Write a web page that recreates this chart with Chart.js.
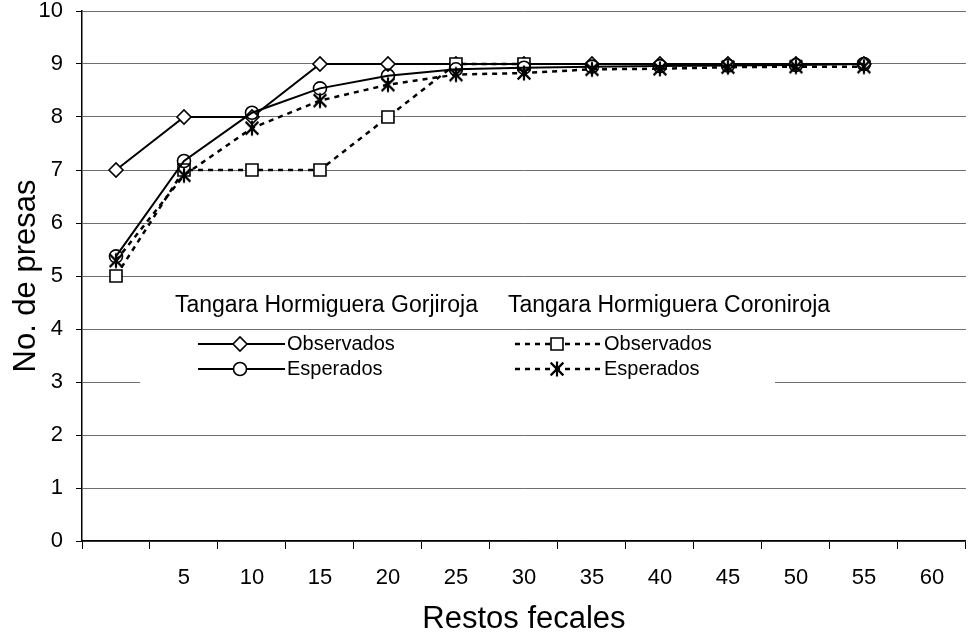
<!DOCTYPE html>
<html>
<head>
<meta charset="utf-8">
<script src="https://cdn.jsdelivr.net/npm/chart.js@4.4.1/dist/chart.umd.min.js"></script>
<style>
  html, body { margin: 0; padding: 0; background: #fff; overflow: hidden; }
  #wrap { width: 968px; height: 638px; overflow: hidden; }
</style>
</head>
<body>
<div id="wrap"><canvas id="chart" width="976" height="638"></canvas></div>
<script>
const categories = ["", "5", "10", "15", "20", "25", "30", "35", "40", "45", "50", "55", "60"];
const gorjirojaObservados = [7, 8, 8, 9, 9, 9, 9, 9, 9, 9, 9, 9];
const gorjirojaEsperados = [5.37, 7.17, 8.08, 8.54, 8.78, 8.9, 8.93, 8.95, 8.96, 8.97, 8.98, 9.0];
const coronirojaObservados = [5, 7, 7, 7, 8, 9, 9];
const coronirojaEsperados = [5.29, 6.9, 7.79, 8.31, 8.61, 8.8, 8.83, 8.9, 8.91, 8.94, 8.95, 8.95];
const yTicks = [0, 1, 2, 3, 4, 5, 6, 7, 8, 9, 10];

const FONT = "'Liberation Sans', Arial, sans-serif";

// asterisk marker (X plus vertical bar), like the spreadsheet "star"
function asterisk(size, lw) {
  const c = document.createElement('canvas');
  c.width = c.height = size;
  const g = c.getContext('2d');
  const m = size / 2, a = size / 2 - 1.5, d = a * 0.85;
  g.strokeStyle = '#000';
  g.lineWidth = lw;
  g.beginPath();
  g.moveTo(m - d, m - d); g.lineTo(m + d, m + d);
  g.moveTo(m + d, m - d); g.lineTo(m - d, m + d);
  g.moveTo(m, m - a); g.lineTo(m, m + a);
  g.stroke();
  return c;
}
const star = asterisk(18, 2.2);

function marker(ctx, style, x, y) {
  ctx.save();
  ctx.strokeStyle = '#000';
  ctx.lineWidth = 1.6;
  ctx.fillStyle = '#fff';
  ctx.setLineDash([]);
  ctx.beginPath();
  if (style === 'rectRot') {
    ctx.moveTo(x - 7, y); ctx.lineTo(x, y - 7); ctx.lineTo(x + 7, y); ctx.lineTo(x, y + 7);
    ctx.closePath(); ctx.fill(); ctx.stroke();
  } else if (style === 'circle') {
    ctx.arc(x, y, 6.5, 0, Math.PI * 2);
    ctx.fill(); ctx.stroke();
  } else if (style === 'rect') {
    ctx.rect(x - 6, y - 6, 12, 12);
    ctx.fill(); ctx.stroke();
  } else {
    ctx.drawImage(star, x - star.width / 2, y - star.height / 2);
  }
  ctx.restore();
}

const boxLegend = {
  id: 'boxLegend',
  afterDraw(chart) {
    const ctx = chart.ctx;
    ctx.save();
    ctx.fillStyle = '#fff';
    ctx.fillRect(140, 335, 635, 56);

    ctx.fillStyle = '#000';
    ctx.font = '23px ' + FONT;
    ctx.textBaseline = 'middle';
    ctx.textAlign = 'left';
    ctx.fillText('Tangara Hormiguera Gorjiroja', 175, 306);
    ctx.fillText('Tangara Hormiguera Coroniroja', 508, 306);

    const cols = [198, 515];
    const rows = [344, 369];
    chart.data.datasets.forEach((ds, i) => {
      const x0 = cols[Math.floor(i / 2)];
      const y = rows[i % 2];
      ctx.strokeStyle = '#000';
      ctx.lineWidth = ds.borderWidth;
      ctx.setLineDash(ds.borderDash || []);
      ctx.beginPath();
      ctx.moveTo(x0, y);
      ctx.lineTo(x0 + 87, y);
      ctx.stroke();
      marker(ctx, ds.legendMarker, x0 + 42, y);
      ctx.fillStyle = '#000';
      ctx.font = '20px ' + FONT;
      ctx.fillText(ds.label, x0 + 89, y);
    });
    ctx.restore();
  }
};

const solid = {
  borderColor: '#000',
  borderWidth: 2,
  pointBorderColor: '#000',
  pointBorderWidth: 1.6,
  tension: 0,
  fill: false
};

new Chart(document.getElementById('chart'), {
  type: 'line',
  data: {
    labels: categories,
    datasets: [
      Object.assign({}, solid, {
        label: 'Observados',
        data: gorjirojaObservados,
        pointStyle: 'rectRot',
        legendMarker: 'rectRot',
        pointRadius: 7,
        pointBackgroundColor: '#fff',
        order: 3
      }),
      Object.assign({}, solid, {
        label: 'Esperados',
        data: gorjirojaEsperados,
        pointStyle: 'circle',
        legendMarker: 'circle',
        pointRadius: 6.5,
        pointBackgroundColor: 'rgba(255,255,255,0)',
        order: 1
      }),
      Object.assign({}, solid, {
        label: 'Observados',
        data: coronirojaObservados,
        borderDash: [5, 5],
        borderWidth: 2.5,
        pointStyle: 'rect',
        legendMarker: 'rect',
        pointRadius: 8.5,
        pointBackgroundColor: '#fff',
        order: 2
      }),
      Object.assign({}, solid, {
        label: 'Esperados',
        data: coronirojaEsperados,
        borderDash: [5, 5],
        borderWidth: 2.5,
        pointStyle: star,
        legendMarker: 'star',
        pointRadius: 7,
        order: 0
      })
    ]
  },
  options: {
    responsive: false,
    animation: false,
    devicePixelRatio: 1,
    layout: { padding: { top: 11, left: 0, right: 0, bottom: 0 } },
    plugins: {
      legend: { display: false },
      tooltip: { enabled: false }
    },
    scales: {
      x: {
        type: 'category',
        offset: true,
        grid: {
          offset: true,
          drawOnChartArea: false,
          drawTicks: true,
          tickLength: 8,
          tickColor: '#000',
          tickWidth: 1
        },
        border: { color: '#000', width: 1.5 },
        ticks: {
          color: '#000',
          font: { family: FONT, size: 22 },
          padding: 16,
          maxRotation: 0,
          autoSkip: false
        },
        title: {
          display: true,
          text: 'Restos fecales',
          color: '#000',
          font: { family: FONT, size: 31 },
          padding: { top: 0, bottom: 0 }
        },
        afterFit(scale) {
          scale.height = 97;
          scale.paddingLeft = 0;
          scale.paddingRight = 0;
        }
      },
      y: {
        min: 0,
        max: 10,
        afterBuildTicks(scale) {
          scale.ticks = yTicks.map(v => ({ value: v }));
        },
        grid: {
          color: '#6e6e6e',
          lineWidth: 1,
          drawTicks: true,
          tickLength: 6,
          tickColor: '#000'
        },
        border: { color: '#000', width: 1.5 },
        ticks: {
          color: '#000',
          font: { family: FONT, size: 22 },
          padding: 13
        },
        title: {
          display: true,
          text: 'No. de presas',
          color: '#000',
          font: { family: FONT, size: 31 },
          padding: { top: 8, bottom: 0 }
        },
        afterFit(scale) {
          scale.width = 82;
          scale.paddingTop = 0;
          scale.paddingBottom = 0;
        }
      }
    }
  },
  plugins: [boxLegend]
});
</script>
</body>
</html>
